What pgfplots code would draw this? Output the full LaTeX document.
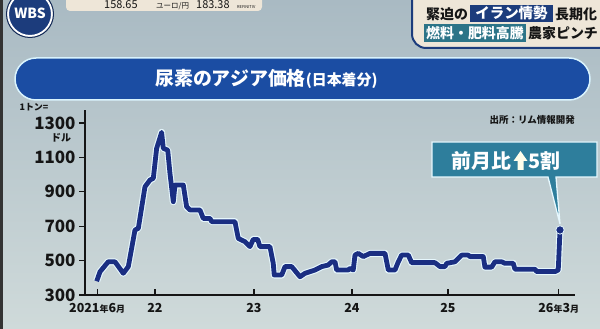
\documentclass[border=0pt]{standalone}
\usepackage{pgfplots}
\pgfplotsset{compat=1.18}
\usepackage{fontspec}
\setmainfont{Noto Sans CJK JP}
\definecolor{bgtop}{HTML}{A9BAC3}
\definecolor{bgbot}{HTML}{CFDADA}
\definecolor{banner}{HTML}{1B4DA3}
\definecolor{navyline}{HTML}{1A2E82}
\definecolor{callout}{HTML}{2E7E9C}
\definecolor{hlnavy}{HTML}{1C3C7C}
\definecolor{hlteal}{HTML}{2C7488}
\definecolor{cream}{HTML}{EEE6D8}
\definecolor{txt}{HTML}{151515}
\pgfplotstableread{
x y
2021.405 380
2021.439 435
2021.523 493
2021.592 493
2021.677 426
2021.728 465
2021.796 678
2021.830 687
2021.898 929
2021.949 968
2021.983 978
2022.017 1152
2022.068 1245
2022.085 1152
2022.130 1142
2022.153 1007
2022.187 842
2022.204 939
2022.289 939
2022.323 813
2022.357 794
2022.459 794
2022.493 745
2022.561 745
2022.579 726
2022.816 726
2022.850 629
2022.918 610
2022.969 581
2023.003 623
2023.048 623
2023.071 581
2023.173 581
2023.207 484
2023.217 416
2023.293 416
2023.327 465
2023.395 465
2023.480 406
2023.531 426
2023.633 445
2023.701 465
2023.768 474
2023.803 493
2023.837 493
2023.854 445
2023.972 445
2023.990 455
2024.023 445
2024.041 532
2024.074 542
2024.126 523
2024.194 542
2024.347 542
2024.381 445
2024.449 445
2024.483 493
2024.517 532
2024.585 532
2024.619 488
2024.857 488
2024.908 465
2024.959 465
2024.977 484
2025.061 493
2025.130 532
2025.197 532
2025.214 523
2025.350 523
2025.367 462
2025.436 462
2025.469 493
2025.538 493
2025.571 484
2025.656 484
2025.673 450
2025.878 450
2025.895 436
2026.082 436
2026.115 445
2026.133 678
}\urea
\begin{document}
\begin{tikzpicture}
\useasboundingbox (0,0) rectangle (600bp,329bp);
\clip (0,0) rectangle (600bp,329bp);
\shade[top color=bgtop, bottom color=bgbot] (0,0) rectangle (600bp,329bp);
\fill[black!80] (0,0) rectangle (2.5bp,329bp);
% ticker
\fill[cream, rounded corners=4bp] (66bp,318bp) rectangle (262bp,340bp);
\node[anchor=base west, inner sep=0, font=\fontsize{11}{11}\selectfont, txt] at (104bp,320.5bp) {158.65};
\node[anchor=base west, inner sep=0, font=\fontsize{7.5}{7.5}\selectfont, txt] at (156bp,320.5bp) {ユーロ/円};
\node[anchor=base west, inner sep=0, font=\fontsize{11}{11}\selectfont, txt] at (196bp,320.5bp) {183.38};
\node[anchor=base west, inner sep=0, font=\fontsize{4}{4}\selectfont, txt] at (237bp,320.5bp) {REFINITIV};
% logo
\filldraw[fill=hlnavy, draw=white, line width=2bp] (30bp,315bp) circle (22bp);
\draw[hlnavy!70!black, line width=1bp] (30bp,315bp) circle (23.5bp);
\node[white, font=\fontsize{14}{14}\selectfont\bfseries] at (30bp,316bp) {WBS};
% headline
\filldraw[fill=cream, draw=hlnavy, line width=2bp, rounded corners=14bp] (412bp,281bp) rectangle (630bp,345bp);
\node[anchor=west, inner sep=0, txt, font=\fontsize{14}{14}\selectfont\bfseries] at (426bp,315bp) {緊迫の};
\fill[hlnavy] (470bp,307bp) rectangle (553bp,324bp);
\node[inner sep=0, white, font=\fontsize{14.5}{14.5}\selectfont\bfseries] at (511.5bp,315.5bp) {イラン情勢};
\node[anchor=west, inner sep=0, txt, font=\fontsize{14}{14}\selectfont\bfseries] at (555bp,315bp) {長期化};
\fill[hlteal] (424bp,287bp) rectangle (526bp,305bp);
\node[inner sep=0, white, font=\fontsize{14}{14}\selectfont\bfseries] at (475bp,296bp) {燃料・肥料高騰};
\node[anchor=west, inner sep=0, txt, font=\fontsize{14}{14}\selectfont\bfseries] at (528bp,296bp) {農家ピンチ};
% title banner
\filldraw[fill=banner, draw=white!85!cyan, line width=1.5bp, rounded corners=21bp] (15bp,229bp) rectangle (590bp,271bp);
\node[anchor=west, inner sep=0, white] at (155bp,250bp) {\fontsize{19}{19}\selectfont\bfseries 尿素のアジア価格\fontsize{15}{15}\selectfont(日本着分)};
% axis
\begin{axis}[
  at={(85bp,34bp)}, anchor=south west,
  scale only axis, width=490bp, height=185bp,
  xmin=2021.286, xmax=2026.286, ymin=300, ymax=1375,
  separate axis lines,
  axis x line*=bottom, axis y line*=left,
  x axis line style={-, line width=1.3bp, color=txt},
  y axis line style={-, line width=1.3bp, color=txt},
  xtick={2021.41,2022,2023.01,2024.01,2024.99,2026.12},
  xticklabels={{2021{\fontsize{9}{9}\selectfont 年}6{\fontsize{9}{9}\selectfont 月}},22,23,24,25,{26{\fontsize{9}{9}\selectfont 年}3{\fontsize{9}{9}\selectfont 月}}},
  ytick={300,500,700,900,1100,1300},
  yticklabels={300,500,700,900,1100,1300},
  xtick align=inside, ytick align=outside,
  major tick length=6bp,
  tick style={line width=1.2bp, color=txt},
  xticklabel style={font=\fontsize{12.5}{12.5}\selectfont\bfseries, text=txt, yshift=-5bp},
  yticklabel style={font=\fontsize{17}{17}\selectfont\bfseries, text=txt, xshift=0bp},
  clip=false,
]
\addplot[draw=white!90!cyan, line width=7bp, line join=round] table[x=x,y=y] {\urea};
\addplot[draw=navyline, line width=4.8bp, line join=round] table[x=x,y=y] {\urea};
\addplot[only marks, mark=*, mark size=4.2bp, color=navyline, mark options={draw=white!90!cyan, line width=0.8bp}] coordinates {(2026.133,678)};
\end{axis}
% unit labels
\node[inner sep=0, txt, font=\fontsize{9}{9}\selectfont\bfseries] at (34bp,222bp) {1トン=};
\node[inner sep=0, txt, font=\fontsize{10}{10}\selectfont\bfseries] at (61bp,191bp) {ドル};
% source
\node[anchor=east, inner sep=0, txt, font=\fontsize{9.5}{9.5}\selectfont\bfseries] at (575bp,209bp) {出所：リム情報開発};
% callout
\filldraw[fill=callout, draw=white!90!cyan, line width=1.3bp] (432bp,187bp) -- (597bp,187bp) -- (597bp,152bp) -- (556bp,152bp) -- (560bp,105bp) -- (548bp,152bp) -- (432bp,152bp) -- cycle;
\node[anchor=west, inner sep=0, white, font=\fontsize{20}{20}\selectfont\bfseries] at (451bp,168bp) {前月比};
\fill[white!92!yellow] (520.5bp,178bp) -- (527.5bp,168bp) -- (523.5bp,168bp) -- (523.5bp,159bp) -- (517.5bp,159bp) -- (517.5bp,168bp) -- (513.5bp,168bp) -- cycle;
\node[anchor=west, inner sep=0, white, font=\fontsize{20}{20}\selectfont\bfseries] at (528bp,168bp) {5割};
\end{tikzpicture}
\end{document}
